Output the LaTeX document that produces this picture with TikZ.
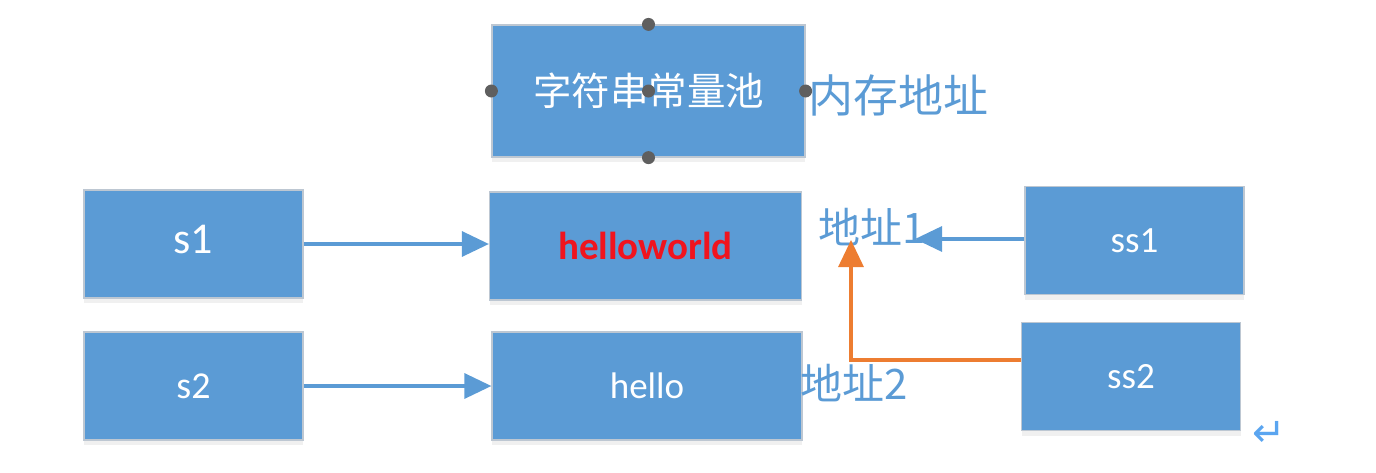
\documentclass[tikz,border=0pt]{standalone}
\usepackage{fontspec}
\setmainfont{Carlito}
\newfontfamily\cjk{Noto Sans CJK SC}
\newfontfamily\symfont{DejaVu Sans}
\usepackage{xcolor}
\usetikzlibrary{arrows.meta,shadows}

\definecolor{boxblue}{HTML}{5B9BD5}
\definecolor{boxedge}{HTML}{BDC7D2}
\definecolor{linkorange}{HTML}{ED7D31}
\definecolor{textred}{HTML}{F0141E}
\definecolor{handlegray}{HTML}{5F5F5F}
\definecolor{markblue}{HTML}{5AA5F0}

\begin{document}
\begin{tikzpicture}[
    x=1pt, y=-1pt,
    box/.style={draw=boxedge, line width=1.2pt, fill=boxblue, text=white, align=center, minimum width=219pt, minimum height=108pt, inner sep=0pt, drop shadow={shadow xshift=0pt, shadow yshift=-5pt, opacity=0.12}},
    wide/.style={box, minimum width=312pt},
    addr/.style={text=boxblue, font=\cjk\fontsize{42}{48}\selectfont, inner sep=0pt},
    handle/.style={circle, fill=handlegray, minimum size=13pt, inner sep=0pt},
    arrow/.style={-{Triangle[length=27pt,width=25pt]}, line width=3.2pt, draw=boxblue}
]
\useasboundingbox (0,0) rectangle (1376,472);

\node[wide, minimum width=313pt, minimum height=132pt, font=\cjk\fontsize{38.5}{44}\selectfont] (pool) at (648.5,91) {字符串常量池};
\node[wide, font=\bfseries\fontsize{39}{44}\selectfont, text=textred] (hw) at (645.5,246) {helloworld};
\node[wide, minimum width=310pt, font=\fontsize{37}{42}\selectfont] (hello) at (647,386) {hello};
\node[box, font=\fontsize{44}{50}\selectfont] (s1) at (193.5,244) {\raisebox{9pt}{s1}};
\node[box, font=\fontsize{38}{44}\selectfont] (s2) at (193.5,386) {s2};
\node[box, font=\fontsize{37}{42}\selectfont] (ss1) at (1134.5,240.5) {ss1};
\node[box, font=\fontsize{37}{42}\selectfont] (ss2) at (1131,376.5) {ss2};

\node[addr, anchor=west, font=\cjk\fontsize{45}{52}\selectfont] (memaddr) at (808,95) {内存地址};
\node[addr, anchor=west] (addr1) at (818,227) {地址1};
\node[addr, anchor=west] (addr2) at (800,383) {地址2};

% selection handles
\node[handle] (hn) at (pool.north) {};
\node[handle] (hs) at (pool.south) {};
\node[handle] (hw0) at (pool.west) {};
\node[handle] (he) at (pool.east) {};
\node[handle] (hc) at (pool.center) {};

\coordinate (addr1tip) at (915,239);
\coordinate (addr1foot) at (851,240);

\draw[arrow] (s1) -- (hw.west |- s1);
\draw[arrow] (s2) -- (hello);
\draw[arrow] (ss1.west |- addr1tip) -- (addr1tip);
\draw[arrow, draw=linkorange] ([yshift=16.5pt]ss2.west) -| (addr1foot);

\node[text=markblue, font=\symfont\fontsize{40}{44}\selectfont, inner sep=0pt] (para) at (1269,434) {↵};
\end{tikzpicture}
\end{document}
